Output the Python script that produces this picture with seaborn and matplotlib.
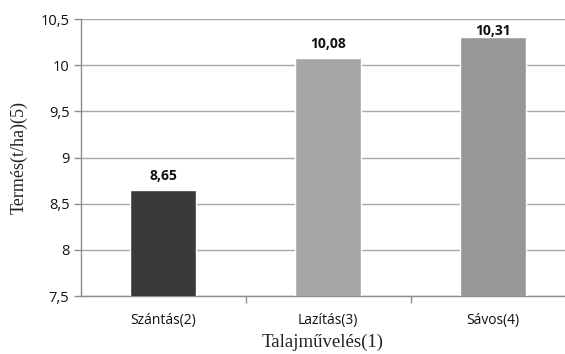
import matplotlib
matplotlib.use("Agg")
import matplotlib.pyplot as plt
import seaborn as sns
import pandas as pd
from matplotlib.ticker import FixedLocator, FuncFormatter

# Yield by tillage method
categories = ["Szántás(2)", "Lazítás(3)", "Sávos(4)"]
values = [8.65, 10.08, 10.31]
bar_colors = ["#3a3a3a", "#a6a6a6", "#979797"]
y_ticks = [7.5, 8.0, 8.5, 9.0, 9.5, 10.0, 10.5]

df = pd.DataFrame({"cat": categories, "val": values})

sns.set_theme(style="white")
plt.rcParams["font.family"] = ["Open Sans", "DejaVu Sans"]

fig = plt.figure(figsize=(5.65, 3.54), dpi=100)
ax = fig.add_axes([0.1425, 0.1638, 0.8575, 0.7825])

sns.barplot(data=df, x="cat", y="val", hue="cat", palette=bar_colors,
            width=0.4, saturation=1, legend=False, ax=ax, zorder=3)

ax.set_ylim(7.5, 10.5)
ax.set_xlim(-0.5, 2.436)

def comma(v, pos=None):
    return f"{v:g}".replace(".", ",")

ax.yaxis.set_major_locator(FixedLocator(y_ticks))
ax.yaxis.set_major_formatter(FuncFormatter(comma))
ax.grid(axis="y", color="#a8a8a8", linewidth=1.0, zorder=0)
ax.set_axisbelow(True)

for side in ["top", "right"]:
    ax.spines[side].set_visible(False)
for side in ["left", "bottom"]:
    ax.spines[side].set_color("#8c8c8c")
    ax.spines[side].set_linewidth(1.0)

# category tick marks sit between the bars
ax.set_xticks([0, 1, 2])
ax.set_xticklabels(categories)
ax.xaxis.set_minor_locator(FixedLocator([0.5, 1.5]))
ax.tick_params(axis="x", which="major", length=0, pad=12, labelsize=10, colors="#111111")
ax.tick_params(axis="x", which="minor", length=5, width=1, color="#8c8c8c", bottom=True)
ax.tick_params(axis="y", which="major", length=5, width=1, color="#8c8c8c", left=True,
               labelsize=10.5, colors="#111111", pad=3)

# value labels above each bar
pads = [5, 5, -1]
bars = sorted([p for p in ax.patches if p.get_width() > 0], key=lambda b: b.get_x())
for bar, v, p in zip(bars, values, pads):
    ax.annotate(f"{v:.2f}".replace(".", ","),
                (bar.get_x() + bar.get_width() / 2, bar.get_height()),
                xytext=(0, p), textcoords="offset points",
                ha="center", va="bottom", fontsize=10,
                fontweight="bold", color="#111111")

ax.set_xlabel("Talajművelés(1)", family=["Liberation Serif", "DejaVu Serif"],
              fontsize=13.5, color="#222222", labelpad=4)
ax.set_ylabel("Termés(t/ha)(5)", family=["Liberation Serif", "DejaVu Serif"],
              fontsize=13, color="#222222", labelpad=9)

fig.savefig("out.png", dpi=100)
